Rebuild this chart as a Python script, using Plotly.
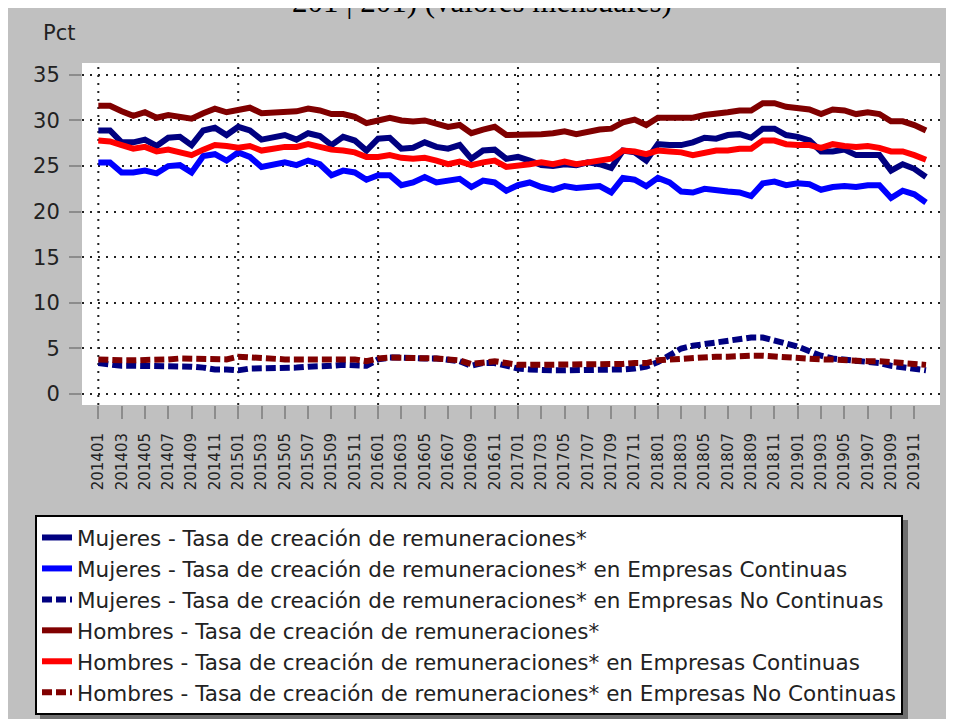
import plotly.graph_objects as go

years = [2014, 2015, 2016, 2017, 2018, 2019]
periods = [f"{y}{m:02d}" for y in years for m in range(1, 13)]

mujeres_total = [
    28.9, 28.9, 27.6, 27.6, 27.9, 27.2, 28.1, 28.2, 27.3, 28.9, 29.2, 28.4,
    29.3, 28.9, 27.9, 28.2, 28.4, 27.9, 28.6, 28.3, 27.3, 28.2, 27.8, 26.7,
    28.0, 28.1, 26.9, 27.0, 27.6, 27.1, 26.9, 27.3, 25.8, 26.7, 26.8, 25.8,
    26.0, 25.6, 25.1, 25.0, 25.2, 25.1, 25.4, 25.2, 24.8, 26.7, 26.5, 25.6,
    27.4, 27.3, 27.3, 27.6, 28.1, 28.0, 28.4, 28.5, 28.1, 29.1, 29.1, 28.4,
    28.2, 27.8, 26.6, 26.6, 26.8, 26.2, 26.2, 26.2, 24.5, 25.2, 24.7, 23.8,
]
mujeres_cont = [
    25.4, 25.4, 24.3, 24.3, 24.5, 24.2, 25.0, 25.1, 24.3, 26.1, 26.3, 25.6,
    26.5, 26.0, 24.9, 25.1, 25.4, 25.1, 25.6, 25.2, 24.0, 24.5, 24.3, 23.5,
    24.0, 24.0, 22.9, 23.2, 23.8, 23.2, 23.4, 23.6, 22.7, 23.4, 23.2, 22.3,
    22.9, 23.2, 22.7, 22.4, 22.8, 22.6, 22.7, 22.8, 22.1, 23.7, 23.5, 22.8,
    23.7, 23.2, 22.2, 22.1, 22.5, 22.3, 22.2, 22.1, 21.7, 23.1, 23.3, 22.9,
    23.1, 23.0, 22.4, 22.7, 22.8, 22.7, 22.9, 22.9, 21.5, 22.3, 21.9, 21.0,
]
mujeres_nocont = [
    3.4, 3.2, 3.1, 3.1, 3.1, 3.0, 3.0, 3.0, 3.0, 2.9, 2.7, 2.7,
    2.6, 2.8, 2.8, 2.9, 2.9, 2.9, 3.0, 3.0, 3.1, 3.2, 3.2, 3.1,
    3.8, 4.0, 4.0, 3.9, 3.9, 3.9, 3.8, 3.6, 3.1, 3.4, 3.4, 3.1,
    2.8, 2.7, 2.6, 2.6, 2.6, 2.6, 2.6, 2.6, 2.6, 2.7, 2.8, 3.0,
    3.5, 4.3, 5.0, 5.3, 5.5, 5.7, 5.9, 6.1, 6.2, 6.2, 5.9, 5.6,
    5.2, 4.7, 4.2, 3.9, 3.8, 3.7, 3.6, 3.4, 3.1, 2.9, 2.7, 2.6,
]
hombres_total = [
    31.6, 31.6, 31.0, 30.5, 30.9, 30.3, 30.6, 30.4, 30.2, 30.8, 31.3, 30.9,
    31.1, 31.4, 30.8, 30.9, 30.9, 31.0, 31.3, 31.1, 30.7, 30.7, 30.4, 29.7,
    30.0, 30.3, 30.0, 29.9, 30.0, 29.6, 29.3, 29.5, 28.6, 29.0, 29.3, 28.4,
    28.4, 28.5, 28.5, 28.6, 28.8, 28.5, 28.8, 29.0, 29.1, 29.8, 30.1, 29.5,
    30.3, 30.3, 30.2, 30.3, 30.6, 30.7, 30.9, 31.1, 31.1, 31.9, 31.9, 31.5,
    31.3, 31.2, 30.7, 31.2, 31.1, 30.7, 30.9, 30.7, 29.9, 29.9, 29.5, 28.9,
]
hombres_cont = [
    27.8, 27.7, 27.3, 26.9, 27.1, 26.6, 26.8, 26.5, 26.2, 26.8, 27.3, 27.2,
    27.0, 27.2, 26.7, 26.9, 27.1, 27.1, 27.4, 27.1, 26.8, 26.7, 26.5, 26.0,
    26.0, 26.2, 25.9, 25.8, 25.9, 25.6, 25.2, 25.5, 25.1, 25.4, 25.6, 24.9,
    25.0, 25.2, 25.4, 25.2, 25.5, 25.2, 25.4, 25.6, 25.8, 26.7, 26.6, 26.3,
    26.7, 26.6, 26.5, 26.2, 26.5, 26.7, 26.7, 26.9, 26.9, 27.8, 27.8, 27.4,
    27.3, 27.3, 27.0, 27.4, 27.2, 27.1, 27.2, 27.0, 26.6, 26.6, 26.2, 25.7,
]
hombres_nocont = [
    3.8, 3.7, 3.7, 3.7, 3.7, 3.8, 3.8, 3.9, 3.9, 3.9, 3.9, 3.8,
    4.1, 4.0, 3.9, 3.8, 3.8, 3.8, 3.8, 3.8, 3.9, 3.9, 3.8, 3.6,
    3.9, 4.0, 4.0, 4.0, 3.9, 3.9, 3.8, 3.7, 3.3, 3.5, 3.6, 3.4,
    3.2, 3.2, 3.2, 3.2, 3.3, 3.3, 3.3, 3.3, 3.3, 3.3, 3.4, 3.4,
    3.7, 3.8, 3.9, 4.0, 4.0, 4.1, 4.1, 4.2, 4.2, 4.2, 4.1, 4.1,
    3.9, 3.9, 3.8, 3.8, 3.7, 3.7, 3.6, 3.6, 3.5, 3.4, 3.3, 3.2,
]

base = "Tasa de creación de remuneraciones*"
series = [
    ("Mujeres - " + base, mujeres_total, "#000080", "solid"),
    ("Mujeres - " + base + " en Empresas Continuas", mujeres_cont, "#0000FF", "solid"),
    ("Mujeres - " + base + " en Empresas No Continuas", mujeres_nocont, "#000080", "10px,4px"),
    ("Hombres - " + base, hombres_total, "#800000", "solid"),
    ("Hombres - " + base + " en Empresas Continuas", hombres_cont, "#FF0000", "solid"),
    ("Hombres - " + base + " en Empresas No Continuas", hombres_nocont, "#800000", "10px,4px"),
]

idx = list(range(len(periods)))

fig = go.Figure()
for name, vals, color, dash in series:
    fig.add_trace(go.Scatter(x=idx, y=vals, mode='lines', name=name,
                             line=dict(color=color, width=6, dash=dash)))

# the page body adds an 8px offset: design in page pixels, convert to figure
OFF = 8
W, H = 954 - OFF, 719 - OFF
L, R, T, B = 82 - OFF, 14, 63 - OFF, 314
pw, ph = W - L - R, H - T - B


def px(x):
    return (x - OFF - L) / pw


def py(y):
    return (H - B - (y - OFF)) / ph


# grey panel
fig.add_shape(type='rect', xref='paper', yref='paper', x0=px(8), x1=px(948), y0=py(7), y1=py(730),
              fillcolor='#C0C0C0', line_width=0, layer='below')
fig.add_shape(type='rect', xref='paper', yref='paper', x0=0, x1=1, y0=0, y1=1,
              fillcolor='white', line_width=0, layer='below')
# legend shadow
fig.add_shape(type='rect', xref='paper', yref='paper', x0=px(40), x1=px(908), y0=py(520), y1=py(720),
              fillcolor='#6e6e6e', line_width=0, layer='above')

# yearly vertical grid
for i, p in enumerate(periods):
    if p.endswith('01'):
        fig.add_shape(type='line', xref='x', yref='y domain', x0=i, x1=i, y0=0, y1=1,
                      line=dict(color='#222', width=2, dash='2px,6px'), layer='below')

# title line, mostly above the visible page
fig.add_annotation(text="201 | 201) (valores mensuales)", xref='paper', yref='paper',
                   x=px(482), y=py(1.5), xanchor='center', yanchor='middle', showarrow=False,
                   font=dict(family="Liberation Serif", size=31, color='black'))

fig.add_annotation(text="Pct", xref='paper', yref='paper', x=px(41), y=py(33),
                   xanchor='left', yanchor='middle', showarrow=False,
                   font=dict(family="DejaVu Sans", size=21, color='#222'))

fig.update_layout(
    width=W, height=H,
    margin=dict(l=L, r=R, t=T, b=B, autoexpand=False),
    paper_bgcolor='white',
    plot_bgcolor='white',
    font=dict(family="DejaVu Sans", color='#222'),
    showlegend=True,
    legend=dict(x=px(35), y=py(515), xanchor='left', yanchor='top',
                bgcolor='white', bordercolor='black', borderwidth=2,
                font=dict(size=21.5, color='#222'), traceorder='normal'),
    xaxis=dict(range=[-1.4, 72.2], tickmode='array', tickvals=idx[::2], ticktext=periods[::2],
               tickangle=-90, tickfont=dict(size=15), showgrid=False, zeroline=False,
               ticks='outside', ticklen=13, tickwidth=2, tickcolor='#8c8c8c',
               ticklabelstandoff=8),
    yaxis=dict(range=[-1.2, 36.3], tickvals=[0, 5, 10, 15, 20, 25, 30, 35],
               tickfont=dict(size=21), showgrid=True, gridcolor='#222', gridwidth=2,
               griddash='2px,6px', zeroline=False, ticks='outside', ticklen=12,
               tickwidth=2, tickcolor='#8c8c8c', ticklabelstandoff=5),
)

fig.write_html("out.html")
